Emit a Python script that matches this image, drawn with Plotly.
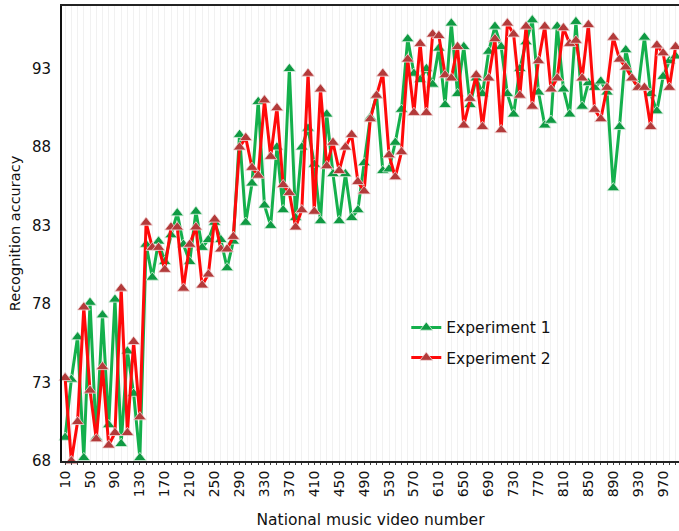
import plotly.graph_objects as go

video_number = list(range(10, 1000, 10))

experiment_1 = [
    69.5, 73.2, 75.9, 68.2, 78.1, 69.5, 77.3, 70.3, 78.3, 69.1,
    75.0, 72.3, 68.2, 81.8, 79.7, 82.0, 80.7, 82.4, 83.8, 81.8,
    80.7, 83.9, 81.6, 82.1, 83.2, 82.1, 80.3, 82.0, 88.8, 83.2,
    85.7, 90.9, 84.3, 83.0, 88.0, 84.0, 93.0, 83.5, 88.0, 89.2,
    86.9, 83.3, 90.1, 86.3, 83.3, 86.3, 83.5, 84.0, 87.0, 89.9,
    91.3, 86.5, 86.6, 88.3, 90.4, 94.9, 92.7, 92.3, 93.0, 92.0,
    94.3, 90.7, 95.9, 91.4, 94.4, 90.7, 92.4, 91.4, 94.1, 95.7,
    94.4, 91.4, 90.1, 93.0, 94.7, 96.1, 91.5, 89.4, 89.7, 95.7,
    91.7, 90.1, 96.0, 90.6, 92.1, 91.8, 92.2, 91.5, 85.4, 89.3,
    94.2, 92.4, 91.8, 95.0, 91.4, 90.3, 92.5, 93.5, 93.8,
]

experiment_2 = [
    73.3, 68.0, 70.5, 77.8, 72.5, 69.4, 74.0, 69.0, 69.8, 79.0,
    69.8, 75.6, 70.8, 83.2, 81.6, 81.6, 80.2, 82.9, 82.9, 79.0,
    81.8, 82.9, 79.2, 79.9, 83.4, 81.5, 81.5, 82.3, 88.0, 88.6,
    86.7, 86.2, 91.0, 87.4, 90.5, 85.6, 85.1, 82.9, 84.0, 92.7,
    83.9, 91.7, 86.8, 88.3, 86.5, 88.0, 88.8, 85.8, 85.2, 89.8,
    91.3, 92.7, 87.5, 86.1, 87.7, 93.6, 90.2, 94.6, 90.2, 95.2,
    95.1, 92.6, 92.4, 94.4, 89.4, 91.1, 92.6, 89.3, 92.4, 94.9,
    89.1, 95.9, 95.2, 91.3, 95.7, 90.6, 93.5, 95.7, 91.7, 92.4,
    95.6, 94.6, 94.8, 92.4, 95.8, 90.4, 89.8, 91.8, 95.0, 93.6,
    93.1, 92.4, 91.8, 91.8, 89.3, 94.5, 94.0, 91.8, 94.4,
]

x_tick_values = list(range(10, 1000, 40))
y_tick_values = [68, 73, 78, 83, 88, 93]

font_family = "DejaVu Sans, Verdana, sans-serif"

fig = go.Figure()
fig.add_trace(go.Scatter(
    x=video_number, y=experiment_1, mode="lines+markers", name="Experiment 1",
    legendgroup="g1",
    line=dict(color="#14b04c", width=3),
    marker=dict(symbol="triangle-up", size=11, color="#0f9a43",
                line=dict(color="rgba(220,240,225,0.8)", width=1)),
    cliponaxis=False,
))
fig.add_trace(go.Scatter(
    x=video_number, y=experiment_2, mode="lines+markers", name="Experiment 2",
    legendgroup="g2",
    line=dict(color="#ff0a0a", width=3),
    marker=dict(symbol="triangle-up", size=11, color="#b33a3a",
                line=dict(color="rgba(240,215,215,0.8)", width=1)),
    cliponaxis=False,
))

fig.update_layout(
    width=679, height=531,
    margin=dict(l=62, r=0, t=6, b=70),
    paper_bgcolor="white", plot_bgcolor="white",
    font=dict(family=font_family, size=14, color="#111111"),
    showlegend=True,
    legend=dict(x=0.558, y=0.33, xanchor="left", yanchor="top",
                bgcolor="rgba(0,0,0,0)", font=dict(size=15.5),
                tracegroupgap=7),
    xaxis=dict(
        range=[5, 995.5],
        tickmode="array", tickvals=x_tick_values,
        ticktext=[str(v) for v in x_tick_values],
        tickangle=-90, tickfont=dict(size=14),
        showgrid=True, gridcolor="#f1f1f1", gridwidth=1,
        minor=dict(dtick=10, tick0=10, showgrid=True, gridcolor="#f1f1f1",
                   ticks="outside", ticklen=2, tickcolor="#444444"),
        ticks="outside", ticklen=2, tickcolor="#444444",
        showline=True, linecolor="#222222", linewidth=2, mirror=True,
        zeroline=False,
        title=dict(text="National music video number", font=dict(size=15.5), standoff=18),
    ),
    yaxis=dict(
        range=[68, 97],
        tickmode="array", tickvals=y_tick_values,
        tickfont=dict(size=15),
        showgrid=False, zeroline=False,
        showline=True, linecolor="#111111", linewidth=2,
        ticks="", ticklabelstandoff=6,
        title=dict(text="Recognition accuracy", font=dict(size=14.5), standoff=8),
    ),
)

fig.write_html("out.html")
